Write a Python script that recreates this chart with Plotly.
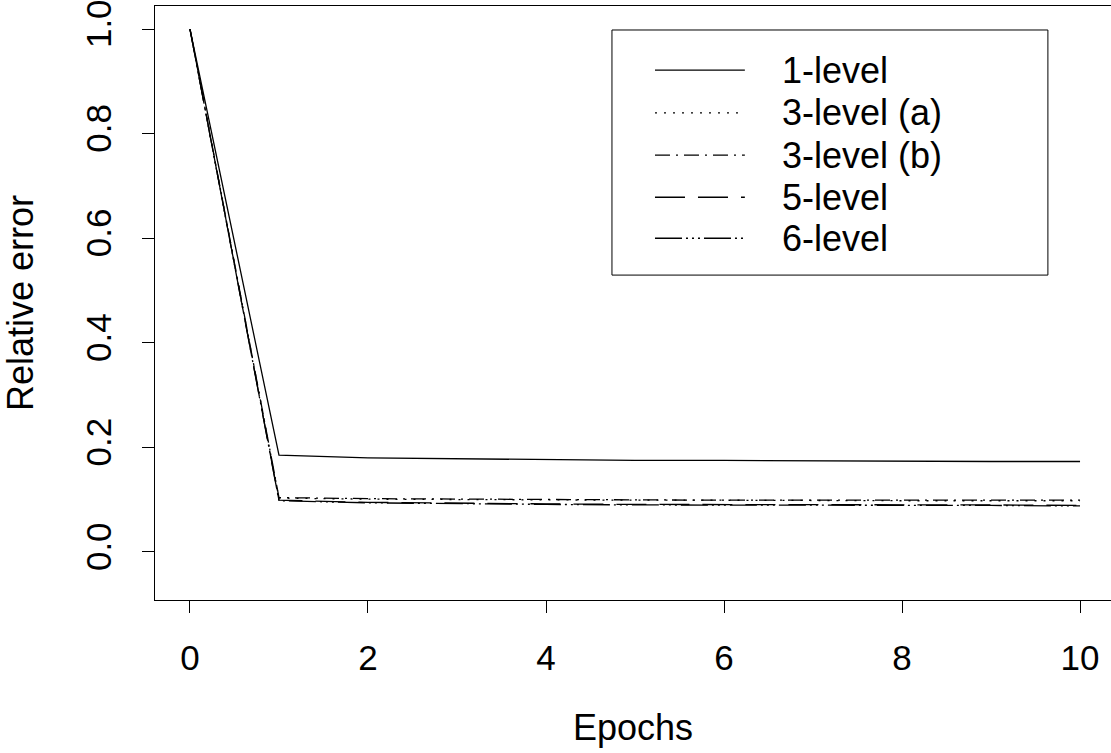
import plotly.graph_objects as go

epochs = [0, 1, 2, 3, 4, 5, 6, 7, 8, 9, 10]
one_level = [1.0, 0.185, 0.180, 0.178, 0.176, 0.175, 0.175, 0.174, 0.174, 0.173, 0.173]
three_level_a = [1.0, 0.103, 0.101, 0.100, 0.099, 0.099, 0.099, 0.098, 0.098, 0.098, 0.098]
three_level_b = [1.0, 0.104, 0.102, 0.101, 0.100, 0.100, 0.099, 0.099, 0.099, 0.099, 0.099]
five_level = [1.0, 0.099, 0.095, 0.093, 0.092, 0.091, 0.091, 0.090, 0.090, 0.090, 0.089]
six_level = [1.0, 0.098, 0.094, 0.092, 0.091, 0.090, 0.090, 0.089, 0.089, 0.089, 0.088]

series_names = ["1-level", "3-level (a)", "3-level (b)", "5-level", "6-level"]
series_values = [one_level, three_level_a, three_level_b, five_level, six_level]
dashes = ["solid", "2px,7px", "15px,6px,2px,6px", "30px,13px", "27px,4px,2px,4px,2px,4px,2px,4px"]

x_ticks = [0, 2, 4, 6, 8, 10]
y_ticks = [0.0, 0.2, 0.4, 0.6, 0.8, 1.0]

FONT = "Liberation Sans, Arial, Helvetica, sans-serif"
FS = 36
TICK_FS = 35

fig = go.Figure()
for name, vals, d in zip(series_names, series_values, dashes):
    fig.add_trace(go.Scatter(x=epochs, y=vals, mode="lines", name=name,
                             line=dict(color="black", width=1.3, dash=d),
                             showlegend=False))

# manual legend (R-style)
shapes = [dict(type="rect", xref="paper", yref="paper", x0=0.478, x1=0.934,
               y0=0.547, y1=0.9596, line=dict(color="black", width=1))]
annotations = []
row_y = [0.892, 0.820, 0.749, 0.678, 0.609]
for name, d, yy in zip(series_names, dashes, row_y):
    shapes.append(dict(type="line", xref="paper", yref="paper", x0=0.523, x1=0.617,
                       y0=yy, y1=yy, line=dict(color="black", width=1.3, dash=d)))
    annotations.append(dict(text=name, xref="paper", yref="paper", x=0.654, y=yy,
                            xanchor="left", yanchor="middle", showarrow=False,
                            font=dict(family=FONT, size=FS, color="black")))

fig.update_layout(
    width=1111, height=753,
    margin=dict(l=155, r=0, t=6, b=153),
    paper_bgcolor="white", plot_bgcolor="white",
    font=dict(family=FONT, size=FS, color="black"),
    shapes=shapes, annotations=annotations,
)
fig.update_xaxes(range=[-0.393, 10.348], tickvals=x_ticks, ticks="outside", ticklen=12,
                 tickcolor="black", showline=True, linecolor="black", linewidth=1,
                 mirror=True, showgrid=False, zeroline=False, automargin=False,
                 ticklabelstandoff=15, ticklabeloverflow="allow",
                 title=dict(text="Epochs", standoff=38, font=dict(size=FS)),
                 tickfont=dict(size=TICK_FS))
fig.update_yaxes(range=[-0.0918, 1.044], tickvals=y_ticks, tickformat=".1f",
                 ticks="outside", ticklen=12, tickcolor="black", tickangle=-90,
                 showline=True, linecolor="black", linewidth=1, showgrid=False,
                 zeroline=False, automargin=False,
                 ticklabelstandoff=17, ticklabeloverflow="allow",
                 title=dict(text="Relative error", standoff=34, font=dict(size=FS)),
                 tickfont=dict(size=TICK_FS))

fig.write_html("out.html", config={"displayModeBar": False},
               post_script="document.body.style.margin='0px';")
